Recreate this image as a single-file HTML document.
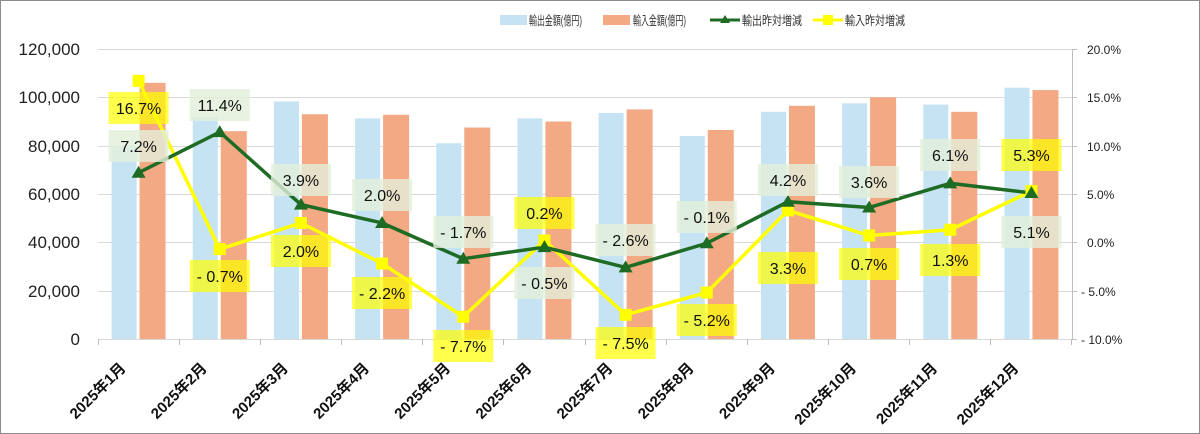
<!DOCTYPE html>
<html><head><meta charset="utf-8"><style>
body{margin:0;background:#fff}
svg{display:block}
text{font-family:"Liberation Sans","Noto Sans CJK JP",sans-serif}
</style></head><body>
<svg width="1200" height="434" xmlns="http://www.w3.org/2000/svg">
<rect x="0.5" y="0.5" width="1199" height="433" fill="#fff" stroke="#8c8c8c"/>
<g stroke="#d9d9d9" stroke-width="1">
<line x1="98" x2="1072" y1="49.5" y2="49.5"/><line x1="98" x2="1072" y1="97.5" y2="97.5"/>
<line x1="98" x2="1072" y1="146.5" y2="146.5"/><line x1="98" x2="1072" y1="194.5" y2="194.5"/>
<line x1="98" x2="1072" y1="242.5" y2="242.5"/><line x1="98" x2="1072" y1="291.5" y2="291.5"/>
<line x1="98" x2="1072" y1="339.5" y2="339.5"/>
</g>
<g stroke="#bfbfbf"><line x1="1072.5" y1="49" x2="1072.5" y2="339"/>
<line x1="1072" x2="1077" y1="49.5" y2="49.5"/><line x1="1072" x2="1077" y1="97.5" y2="97.5"/><line x1="1072" x2="1077" y1="146.5" y2="146.5"/><line x1="1072" x2="1077" y1="194.5" y2="194.5"/><line x1="1072" x2="1077" y1="242.5" y2="242.5"/><line x1="1072" x2="1077" y1="291.5" y2="291.5"/><line x1="1072" x2="1077" y1="339.5" y2="339.5"/>
<line x1="98.5" y1="339" x2="98.5" y2="345"/><line x1="179.5" y1="339" x2="179.5" y2="345"/><line x1="260.5" y1="339" x2="260.5" y2="345"/><line x1="341.5" y1="339" x2="341.5" y2="345"/><line x1="422.5" y1="339" x2="422.5" y2="345"/><line x1="503.5" y1="339" x2="503.5" y2="345"/><line x1="585.5" y1="339" x2="585.5" y2="345"/><line x1="666.5" y1="339" x2="666.5" y2="345"/><line x1="747.5" y1="339" x2="747.5" y2="345"/><line x1="828.5" y1="339" x2="828.5" y2="345"/><line x1="909.5" y1="339" x2="909.5" y2="345"/><line x1="990.5" y1="339" x2="990.5" y2="345"/><line x1="1071.5" y1="339" x2="1071.5" y2="345"/>
</g>
<g font-size="17" fill="#222" text-anchor="end">
<text x="80" y="55">120,000</text><text x="80" y="103">100,000</text><text x="80" y="152">80,000</text><text x="80" y="200">60,000</text><text x="80" y="248">40,000</text><text x="80" y="297">20,000</text><text x="80" y="345">0</text>
</g>
<g font-size="12" fill="#222">
<text x="1087" y="54">20.0%</text><text x="1087" y="102">15.0%</text><text x="1087" y="151">10.0%</text><text x="1087" y="199">5.0%</text><text x="1087" y="247">0.0%</text><text x="1081" y="296">- 5.0%</text><text x="1081" y="344">- 10.0%</text>
</g>
<g id="bars"></g>
<g id="lines"></g>
<g id="labels"></g>
<g font-size="15" font-weight="bold" fill="#111" text-anchor="end" id="xl"></g>
<g font-size="12.5" fill="#333">
<rect x="500" y="15" width="27" height="10" fill="#c5e3f3"/><text x="529" y="25" textLength="53" lengthAdjust="spacingAndGlyphs">輸出金額(億円)</text>
<rect x="603" y="15" width="27" height="10" fill="#f2a984"/><text x="633" y="25" textLength="53" lengthAdjust="spacingAndGlyphs">輸入金額(億円)</text>
<line x1="710" x2="740" y1="20" y2="20" stroke="#1e6b24" stroke-width="3"/><polygon points="725,15 730,23 720,23" fill="#1e6b24"/><text x="742" y="25" textLength="60" lengthAdjust="spacingAndGlyphs">輸出昨対増減</text>
<line x1="813" x2="843" y1="20" y2="20" stroke="#ffff00" stroke-width="3"/><rect x="823" y="15" width="10" height="10" fill="#ffff00"/><text x="845" y="25" textLength="60" lengthAdjust="spacingAndGlyphs">輸入昨対増減</text>
</g>
<script>
var ns="http://www.w3.org/2000/svg";
function el(p,t,a,txt){var e=document.createElementNS(ns,t);for(var k in a)e.setAttribute(k,a[k]);if(txt!==undefined)e.textContent=txt;document.getElementById(p).appendChild(e);return e;}
var ex=[80000,91900,98300,91300,81000,91300,93500,84000,94000,97500,97000,104000];
var im=[106000,86000,93000,92800,87500,90000,95000,86500,96500,100000,94000,103000];
var ep=[7.2,11.4,3.9,2.0,-1.7,-0.5,-2.6,-0.1,4.2,3.6,6.1,5.1];
var ip=[16.7,-0.7,2.0,-2.2,-7.7,0.2,-7.5,-5.2,3.3,0.7,1.3,5.3];
var W=81.17;function cx(i){return 98+W*(i+0.5);}
function yv(v){return 339-v*290/120000;}function yp(p){return 242.3-p*9.667;}
for(var i=0;i<12;i++){var c=cx(i);
el("bars","rect",{x:c-27,y:yv(ex[i]),width:25,height:339-yv(ex[i]),fill:"#c5e3f3"});
el("bars","rect",{x:c+1,y:yv(im[i]),width:26,height:339-yv(im[i]),fill:"#f2a984"});
el("xl","text",{transform:"translate("+(c-12)+",369) rotate(-45)"},"2025年"+(i+1)+"月");}
var pe="",pi="";for(i=0;i<12;i++){pe+=cx(i)+","+yp(ep[i])+" ";pi+=cx(i)+","+yp(ip[i])+" ";}
el("lines","polyline",{points:pi,fill:"none",stroke:"#ffff00","stroke-width":3.5});
el("lines","polyline",{points:pe,fill:"none",stroke:"#1e6b24","stroke-width":3.5});
for(i=0;i<12;i++){var c=cx(i);
el("lines","rect",{x:c-6,y:yp(ip[i])-6,width:12,height:12,fill:"#ffff00"});
el("lines","polygon",{points:c+","+(yp(ep[i])-7)+" "+(c+7)+","+(yp(ep[i])+5)+" "+(c-7)+","+(yp(ep[i])+5),fill:"#1e6b24"});}
var L=[[0,108,"16.7%","y"],[0,146,"7.2%","g"],[1,105,"11.4%","g"],[1,276,"- 0.7%","y"],[2,180,"3.9%","g"],[2,251,"2.0%","y"],[3,195,"2.0%","g"],[3,293,"- 2.2%","y"],[4,232,"- 1.7%","g"],[4,346,"- 7.7%","y"],[5,213,"0.2%","y"],[5,283,"- 0.5%","g"],[6,240,"- 2.6%","g"],[6,343,"- 7.5%","y"],[7,217,"- 0.1%","g"],[7,320,"- 5.2%","y"],[8,180,"4.2%","g"],[8,268,"3.3%","y"],[9,182,"3.6%","g"],[9,264,"0.7%","y"],[10,155,"6.1%","g"],[10,260,"1.3%","y"],[11,155,"5.3%","y"],[11,232,"5.1%","g"]];
L.forEach(function(l){var c=cx(l[0]);
el("labels","rect",{x:c-30,y:l[1]-16,width:60,height:32,fill:l[3]=="y"?"rgba(255,255,0,0.7)":"rgba(226,239,218,0.8)"});
el("labels","text",{x:c,y:l[1]+6,"text-anchor":"middle","font-size":16,fill:"#111"},l[2]);});
</script>
</svg>
</body></html>
